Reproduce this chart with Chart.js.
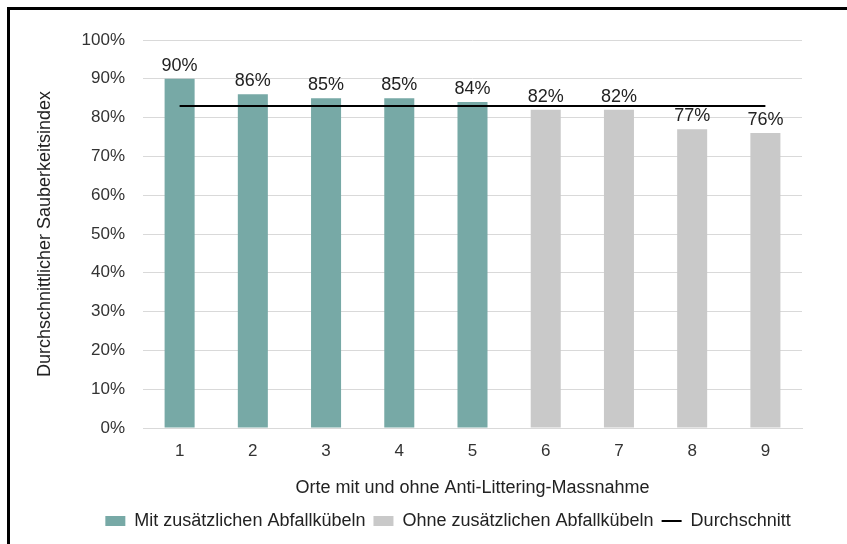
<!DOCTYPE html>
<html>
<head>
<meta charset="utf-8">
<script src="https://cdn.jsdelivr.net/npm/chart.js@4"></script>
<style>
  html, body { margin: 0; padding: 0; background: #fff; overflow: hidden; }
  #frame { position: absolute; left: 7px; top: 7px; width: 900px; height: 600px;
           border-left: 3px solid #000; border-top: 3px solid #000; }
  #wrap { position: absolute; left: 0; top: 0; width: 847px; height: 544px; }
</style>
</head>
<body>
<div id="frame"></div>
<div id="wrap"><canvas id="chart" width="847" height="544"></canvas></div>
<script>
// data
const categories = ["1", "2", "3", "4", "5", "6", "7", "8", "9"];
const withBins = [90, 86, 85, 85, 84, null, null, null, null];
const withoutBins = [null, null, null, null, null, 82, 82, 77, 76];
const average = [83, 83, 83, 83, 83, 83, 83, 83, 83];
const yTicks = [0, 10, 20, 30, 40, 50, 60, 70, 80, 90, 100];

const FONT = "'Liberation Sans', Arial, sans-serif";
const TEXT = "#333";

// value labels on top of the bars
const barLabels = {
    id: "barLabels",
    afterDatasetsDraw(chart) {
        const ctx = chart.ctx;
        ctx.save();
        ctx.font = "18px " + FONT;
        ctx.fillStyle = "#222";
        ctx.textAlign = "center";
        ctx.textBaseline = "bottom";
        [0, 1].forEach((di) => {
            const meta = chart.getDatasetMeta(di);
            meta.data.forEach((bar, i) => {
                const v = chart.data.datasets[di].data[i];
                if (v === null) return;
                ctx.fillText(v + "%", bar.x, bar.y - 4);
            });
        });
        ctx.restore();
    }
};

// legend sits a bit right of the middle in the original
const legendShift = {
    id: "legendShift",
    afterLayout(chart) {
        const lg = chart.legend;
        const dx = 448 - (lg.left + lg.right) / 2;
        lg.left += dx;
        lg.right += dx;
    }
};

new Chart(document.getElementById("chart"), {
    data: {
        labels: categories,
        datasets: [
            {
                type: "bar",
                label: "Mit zusätzlichen Abfallkübeln",
                data: withBins,
                backgroundColor: "#77a9a6",
                grouped: false,
                barPercentage: 0.41,
                categoryPercentage: 1,
                pointStyle: "rect",
                order: 1
            },
            {
                type: "bar",
                label: "Ohne zusätzlichen Abfallkübeln",
                data: withoutBins,
                backgroundColor: "#c9c9c9",
                grouped: false,
                barPercentage: 0.41,
                categoryPercentage: 1,
                pointStyle: "rect",
                order: 1
            },
            {
                type: "line",
                label: "Durchschnitt",
                data: average,
                borderColor: "#000",
                backgroundColor: "#000",
                borderWidth: 2,
                pointRadius: 0,
                pointStyle: "line",
                order: 0
            }
        ]
    },
    options: {
        responsive: false,
        animation: false,
        layout: { padding: { top: 40, left: 0, right: 45, bottom: 4 } },
        plugins: {
            tooltip: { enabled: false },
            legend: {
                position: "bottom",
                labels: {
                    font: { size: 18, family: FONT },
                    color: "#222",
                    usePointStyle: true,
                    pointStyleWidth: 20,
                    boxHeight: 10,
                    padding: 8,
                    sort: (a, b) => a.datasetIndex - b.datasetIndex
                }
            }
        },
        scales: {
            x: {
                grid: { display: false, drawTicks: false },
                border: { color: "#d9d9d9", width: 1 },
                ticks: { font: { size: 17, family: FONT }, color: TEXT, padding: 13 },
                title: {
                    display: true,
                    text: "Orte mit und ohne Anti-Littering-Massnahme",
                    font: { size: 18, family: FONT },
                    color: "#222",
                    padding: { top: 0, bottom: 5 }
                },
                afterFit(scale) { scale.height = 76; }
            },
            y: {
                min: 0,
                max: 100,
                grid: { color: "#d9d9d9", drawTicks: false },
                border: { display: false },
                afterBuildTicks(scale) { scale.ticks = yTicks.map((v) => ({ value: v })); },
                ticks: {
                    font: { size: 17, family: FONT },
                    color: TEXT,
                    padding: 18,
                    callback: (v) => v + "%"
                },
                title: {
                    display: true,
                    text: "Durchschnittlicher Sauberkeitsindex",
                    font: { size: 18, family: FONT },
                    color: "#222",
                    padding: { top: 34, bottom: 0 }
                },
                afterFit(scale) { scale.width = 143; }
            }
        }
    },
    plugins: [barLabels, legendShift]
});
</script>
</body>
</html>
